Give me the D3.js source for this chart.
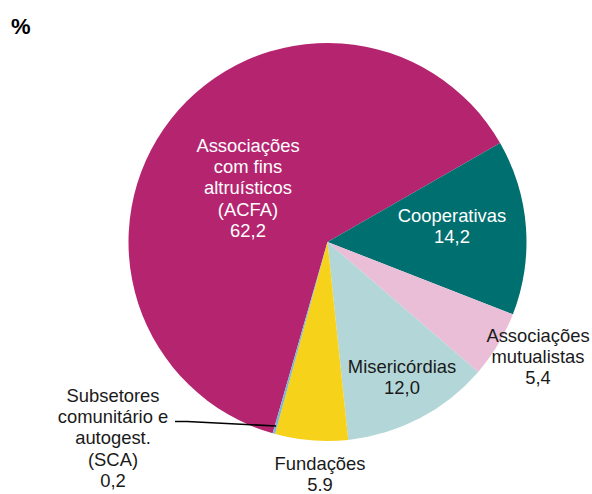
<!DOCTYPE html>
<html><head><meta charset="utf-8">
<script src="https://cdn.jsdelivr.net/npm/d3@7"></script>
<style>html,body{margin:0;padding:0;background:#fff;}svg{display:block;}</style>
</head><body>
<svg id="c" width="592" height="494"></svg>
<script>
const categories = ["ACFA","Cooperativas","Mutualistas","Misericórdias","Fundações","SCA"];
const values = [62.2, 14.2, 5.4, 12.0, 5.9, 0.2];
const labels = [
  ["Associações","com fins","altruísticos","(ACFA)","62,2"],
  ["Cooperativas","14,2"],
  ["Associações","mutualistas","5,4"],
  ["Misericórdias","12,0"],
  ["Fundações","5.9"],
  ["Subsetores","comunitário e","autogest.","(SCA)","0,2"]
];
const colors = ["#b5256f","#006f6f","#e9bed6","#b3d7d8","#f6d21b","#7cb7cf"];
const textColors = ["#fff","#fff","#1a1a1a","#1a1a1a","#1a1a1a","#1a1a1a"];

const svg = d3.select("#c");
const cx = 327.5, cy = 242, r = 199;
const start = 196 * Math.PI / 180;
const pie = d3.pie().sort(null).value(d => d).startAngle(start).endAngle(start + 2 * Math.PI);
const arcs = pie(values);
const arc = d3.arc().innerRadius(0).outerRadius(r);
const g = svg.append("g").attr("transform", `translate(${cx},${cy})`);
g.selectAll("path").data(arcs).join("path")
  .attr("d", arc).attr("fill", (d, i) => colors[i]);

// label anchor positions (centre x, first baseline y) in page coords
const labelPos = [
  [248, 152], [452, 222], [538, 342], [402, 373], [320, 470], [113, 402]
];
const lh = 21.2;
labels.forEach((lines, i) => {
  const t = svg.append("text")
    .attr("text-anchor", "middle")
    .attr("font-family", "Liberation Sans, Arial, sans-serif")
    .attr("font-size", 18.4)
    .attr("fill", textColors[i]);
  lines.forEach((s, j) => {
    t.append("tspan").attr("x", labelPos[i][0]).attr("y", labelPos[i][1] + j * lh).text(s);
  });
});

// leader line for SCA
const sca = arcs[5];
const mid = (sca.startAngle + sca.endAngle) / 2;
const ex = cx + Math.sin(mid) * (r - 8), ey = cy - Math.cos(mid) * (r - 8);
svg.append("path")
  .attr("d", `M175,421.5 L187,421.5 L${ex},${ey}`)
  .attr("fill", "none").attr("stroke", "#000").attr("stroke-width", 1.6);

svg.append("text").attr("x", 11).attr("y", 34)
  .attr("font-family", "Liberation Sans, Arial, sans-serif")
  .attr("font-size", 22).attr("font-weight", "bold").attr("fill", "#000").text("%");
</script>
</body></html>
